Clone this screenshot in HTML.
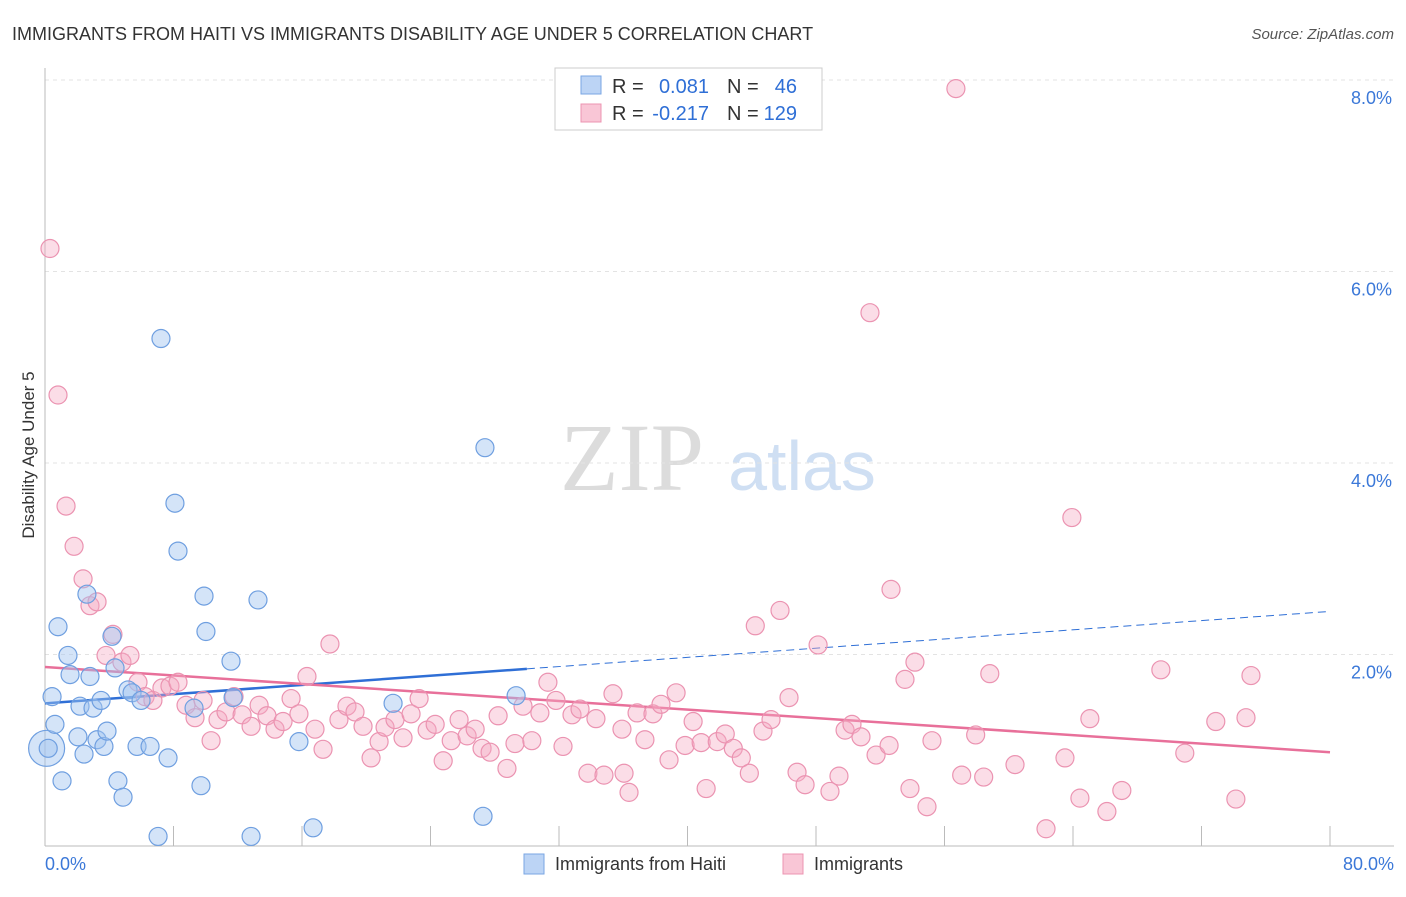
<!DOCTYPE html>
<html><head><meta charset="utf-8"><style>
body{margin:0;background:#fff;font-family:"Liberation Sans",sans-serif;}
</style></head><body>
<svg width="1406" height="892" xmlns="http://www.w3.org/2000/svg" id="chart" style="font-family:'Liberation Sans',sans-serif">
<text x="12" y="40" font-size="18" fill="#333">IMMIGRANTS FROM HAITI VS IMMIGRANTS DISABILITY AGE UNDER 5 CORRELATION CHART</text>
<text x="1394" y="39" font-size="15" fill="#555" font-style="italic" text-anchor="end">Source: ZipAtlas.com</text>
<g>
<text x="632" y="490" font-size="96" fill="#dcdcdc" font-family="Liberation Serif" text-anchor="middle">ZIP</text>
<text x="802" y="490" font-size="70" fill="#cfdff3" text-anchor="middle">atlas</text>
</g>
<g id="grid"></g><g id="axes"></g><g id="trends"></g><g id="pts"></g>
<text transform="translate(34,455) rotate(-90)" font-size="17" fill="#333" text-anchor="middle">Disability Age Under 5</text>
<g font-size="20">
<rect x="555" y="68" width="267" height="62" fill="#fff" stroke="#ccc"/>
<rect x="581" y="76" width="20" height="18" fill="#bcd4f5" stroke="#7aa6e3"/>
<rect x="581" y="104" width="20" height="18" fill="#f9c6d6" stroke="#ec94b1"/>
<text x="612" y="93" fill="#333">R =</text><text x="709" y="93" fill="#2f6fd6" text-anchor="end">0.081</text>
<text x="727" y="93" fill="#333">N =</text><text x="797" y="93" fill="#2f6fd6" text-anchor="end">46</text>
<text x="612" y="120" fill="#333">R =</text><text x="709" y="120" fill="#2f6fd6" text-anchor="end">-0.217</text>
<text x="727" y="120" fill="#333">N =</text><text x="797" y="120" fill="#2f6fd6" text-anchor="end">129</text>
</g>
<g>
<rect x="524" y="854" width="20" height="20" fill="#bcd4f5" stroke="#7aa6e3"/>
<text x="555" y="870" font-size="18" fill="#333">Immigrants from Haiti</text>
<rect x="783" y="854" width="20" height="20" fill="#f9c6d6" stroke="#ec94b1"/>
<text x="814" y="870" font-size="18" fill="#333">Immigrants</text>
</g>
</svg>
<script>
const blueX=[0.1,0.44,0.62,0.81,1.06,1.43,1.56,2.05,2.18,2.43,2.61,2.80,2.99,3.24,3.49,3.67,3.86,4.17,4.36,4.54,4.86,5.17,5.42,5.73,5.98,6.54,7.04,7.22,7.66,8.09,8.28,9.28,9.71,9.90,10.02,11.58,11.71,12.83,13.26,15.81,16.69,21.67,27.27,27.39,29.33,0.2];
const blueY=[1.02,1.56,1.27,2.29,0.68,1.99,1.79,1.14,1.46,0.96,2.63,1.77,1.44,1.11,1.52,1.04,1.20,2.19,1.86,0.68,0.51,1.63,1.60,1.04,1.52,1.04,0.10,5.30,0.92,3.58,3.08,1.44,0.63,2.61,2.24,1.93,1.55,0.10,2.57,1.09,0.19,1.49,0.31,4.16,1.57,1.02];
const pinkX=[0.31,0.81,1.31,1.81,2.37,2.80,3.24,4.23,3.80,4.79,5.29,5.79,6.23,6.72,7.28,7.78,8.28,8.78,9.34,9.84,10.34,10.77,11.27,11.77,12.27,12.83,13.33,13.82,14.32,14.82,15.32,15.81,16.31,16.81,17.31,17.74,18.30,18.80,19.30,19.80,20.30,20.80,21.17,21.79,22.29,22.79,23.29,23.79,24.29,24.79,25.29,25.78,26.28,26.78,27.21,27.71,28.21,28.76,29.26,29.76,30.31,30.81,31.31,31.81,32.25,32.81,33.31,33.80,34.30,34.80,35.36,35.92,36.05,36.36,36.86,37.35,37.85,38.35,38.85,39.29,39.85,40.35,40.85,41.16,41.85,42.35,42.85,43.35,43.85,44.22,44.70,45.20,45.76,46.32,46.82,47.32,48.13,48.87,49.43,49.81,50.24,50.80,51.36,51.74,52.55,52.67,53.54,53.85,54.16,54.91,55.22,56.71,57.07,57.94,58.44,58.82,60.39,62.32,63.50,63.93,64.43,65.05,66.11,67.04,69.47,70.96,72.89,74.14,74.77,75.08];
const pinkY=[6.24,4.71,3.55,3.13,2.79,2.51,2.55,2.21,1.99,1.92,1.99,1.71,1.56,1.52,1.65,1.67,1.71,1.47,1.34,1.52,1.10,1.32,1.40,1.56,1.37,1.25,1.47,1.36,1.22,1.30,1.54,1.38,1.77,1.22,1.01,2.11,1.32,1.46,1.40,1.25,0.92,1.09,1.24,1.32,1.13,1.38,1.54,1.21,1.27,0.89,1.10,1.32,1.15,1.22,1.02,0.98,1.36,0.81,1.07,1.46,1.10,1.39,1.71,1.52,1.04,1.37,1.43,0.76,1.33,0.74,1.59,1.22,0.76,0.56,1.39,1.11,1.38,1.48,0.90,1.60,1.05,1.30,1.08,0.60,1.09,1.17,1.02,0.92,0.76,2.30,1.20,1.32,2.46,1.55,0.77,0.64,2.10,0.57,0.73,1.21,1.27,1.14,5.57,0.95,1.05,2.68,1.74,0.60,1.92,0.41,1.10,7.91,0.74,1.16,0.72,1.80,0.85,0.18,0.92,3.43,0.50,1.33,0.36,0.58,1.84,0.97,1.30,0.49,1.34,1.78];
const blueTrend=[1.49,0.0120];
const pinkTrend=[1.87,-0.01113];
const yTicks=[2,4,6,8];
const xTicks=[0,8,16,24,32,40,48,56,64,72,80];
const NS='http://www.w3.org/2000/svg';
const X=v=>45+v/80*1285, Y=v=>846-v*95.75;
function mk(t,a,p){const e=document.createElementNS(NS,t);for(const k in a)e.setAttribute(k,a[k]);document.getElementById(p).appendChild(e);return e;}
yTicks.forEach(v=>{
 const l=mk('line',{x1:45,x2:1394,y1:Y(v),y2:Y(v),stroke:'#e3e3e3','stroke-dasharray':'4,4'},'grid');
 
 
 const t=mk('text',{x:1392,y:Y(v)+24,'font-size':18,fill:'#3b78d8','text-anchor':'end'},'grid');
 t.textContent=v.toFixed(1)+'%';
 
 
});
const ax=mk('line',{x1:45,x2:45,y1:68,y2:846,stroke:'#bbb'},'axes');


const bx=mk('line',{x1:45,x2:1394,y1:846,y2:846,stroke:'#bbb'},'axes');


xTicks.forEach(v=>{
 const l=mk('line',{x1:X(v),x2:X(v),y1:826,y2:846,stroke:'#bbb'},'axes');
 
 
});
[[0,'start'],[80,'end']].forEach(([v,a])=>{
 const t=mk('text',{x:v==0?45:1394,y:870,'font-size':18,fill:'#3b78d8','text-anchor':a},'axes');
 t.textContent=v.toFixed(1)+'%';
 
 
});
function tl(c,x0,x1,col,dash,name){
 const l=mk('line',{x1:X(x0),x2:X(x1),y1:Y(c[0]+c[1]*x0),y2:Y(c[0]+c[1]*x1),stroke:col,'stroke-width':dash?1:2.5},'trends');
 if(dash)l.setAttribute('stroke-dasharray','8,5');
 
 
}
tl(blueTrend,0,30,'#2f6fd6',false,'haiti-trend-line');
tl(blueTrend,30,80,'#2f6fd6',true,'haiti-trend-extension');
tl(pinkTrend,0,80,'#e8709a',false,'immigrants-trend-line');
pinkX.forEach((v,i)=>{
 const c=mk('circle',{cx:X(v),cy:Y(pinkY[i]),r:9,fill:'rgba(244,170,195,0.4)',stroke:'#eb93b1','stroke-width':1.2},'pts');
 
 
});
blueX.forEach((v,i)=>{
 const c=mk('circle',{cx:X(v),cy:Y(blueY[i]),r:i==0?18:9,fill:'rgba(160,195,240,0.45)',stroke:'#6f9fe0','stroke-width':1.2},'pts');
 
 
});
</script>
</body></html>
